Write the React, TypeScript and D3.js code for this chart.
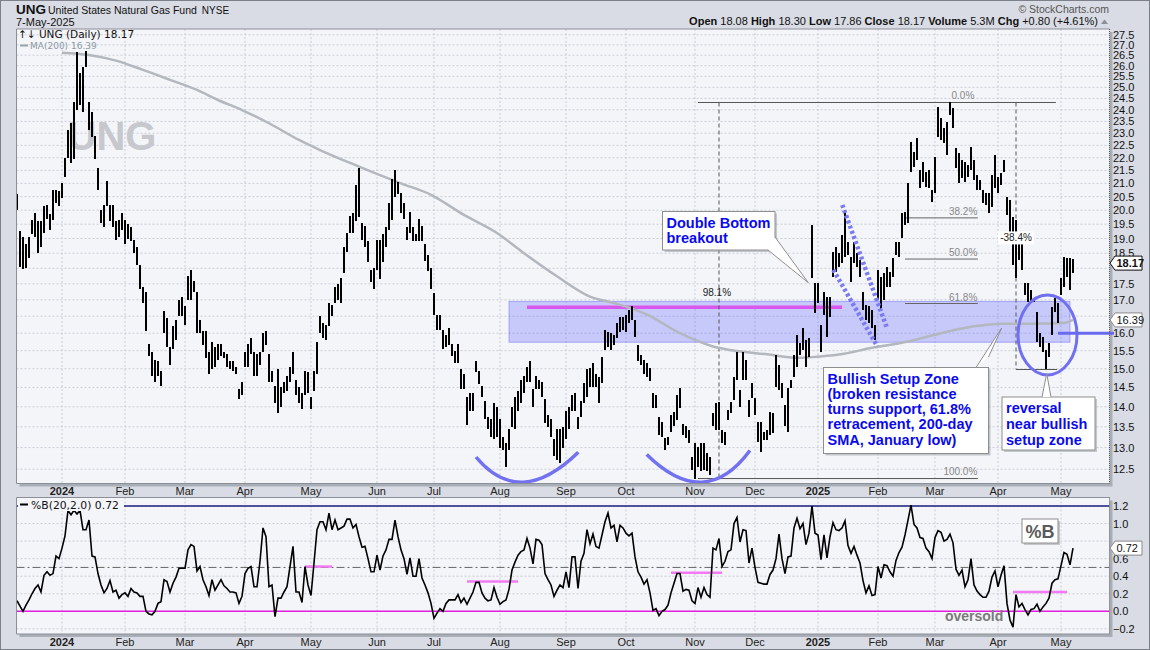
import React from 'react';
import * as d3 from 'd3';

// ---- trading calendar (first bar 8-Dec-2023, last bar 7-May-2025)
const FIRST_DAY = new Date(2023, 11, 8);
const LAST_DAY = new Date(2025, 4, 7);
const HOLIDAYS = [
  '2023-12-25', '2024-01-01', '2024-01-15', '2024-02-19', '2024-03-29', '2024-05-27',
  '2024-06-19', '2024-07-04', '2024-09-02', '2024-11-28', '2024-12-25', '2025-01-01',
  '2025-01-09', '2025-01-20', '2025-02-17', '2025-04-18',
];

// ---- daily UNG bars
const highs = [
  20.6, 19.25, 19.05, 18.8, 19.05, 19.65, 19.9, 19.6, 19.6, 20.15,
  20.2, 19.85, 20.75, 20.75, 20.7, 21.0, 22.0, 23.15, 23.45, 24.35,
  26.65, 25.65, 25.95, 26.7, 24.35, 23.9, 22.9, 21.6, 20.0, 20.2,
  21.1, 20.2, 20.2, 19.6, 19.65, 19.9, 19.65, 19.5, 19.4, 18.95,
  18.7, 18.1, 17.4, 17.25, 15.7, 15.45, 15.25, 15.2, 14.95, 16.65,
  16.45, 15.6, 16.2, 16.4, 17.0, 17.1, 16.8, 17.75, 17.95, 17.6,
  17.25, 16.4, 16.05, 16.05, 15.45, 15.75, 15.6, 15.7, 15.7, 15.45,
  15.4, 15.2, 15.2, 15.05, 14.45, 14.65, 15.45, 15.7, 15.85, 15.45,
  15.4, 15.45, 16.0, 16.05, 15.4, 14.95, 14.55, 15.0, 14.5, 14.65,
  14.8, 15.05, 15.45, 14.7, 14.5, 14.35, 14.95, 14.9, 14.25, 14.95,
  15.75, 16.5, 16.3, 16.25, 16.9, 16.85, 17.4, 17.5, 17.7, 18.7,
  19.2, 19.8, 19.9, 20.95, 21.6, 19.55, 19.45, 18.9, 17.95, 18.0,
  18.95, 18.95, 19.15, 19.4, 20.25, 21.15, 21.5, 21.05, 20.65, 20.25,
  19.4, 19.95, 19.4, 19.15, 19.7, 19.45, 18.8, 18.45, 18.0, 17.2,
  16.55, 16.55, 16.1, 15.95, 16.15, 15.7, 15.5, 15.7, 15.0, 14.85,
  14.25, 14.35, 14.35, 15.2, 14.95, 14.55, 14.15, 13.75, 13.7, 14.1,
  14.0, 13.7, 13.25, 13.1, 13.45, 14.0, 14.25, 14.4, 14.7, 14.8,
  15.05, 15.2, 14.45, 14.8, 14.7, 14.65, 14.2, 13.8, 13.7, 13.2,
  13.45, 13.45, 13.5, 13.9, 14.0, 14.3, 14.35, 13.75, 14.15, 14.63,
  14.98, 15.03, 15.17, 14.85, 14.79, 15.33, 16.1, 16.04, 16.01, 15.95,
  16.31, 16.49, 16.49, 16.55, 16.7, 16.8, 16.4, 15.67, 15.39, 15.25,
  15.17, 15.03, 14.36, 14.31, 13.75, 13.63, 13.24, 13.26, 13.8, 13.88,
  14.31, 14.49, 13.56, 13.51, 13.43, 12.79, 13.12, 13.02, 13.12, 13.12,
  12.88, 12.79, 13.85, 14.1, 14.13, 13.43, 13.38, 13.93, 14.13, 14.79,
  15.47, 14.44, 15.45, 15.25, 14.18, 14.63, 14.23, 13.61, 13.61, 13.38,
  13.43, 13.88, 13.85, 15.39, 15.11, 14.63, 14.05, 14.49, 14.71, 15.39,
  15.95, 15.73, 16.16, 15.81, 15.87, 19.48, 17.53, 17.53, 16.25, 17.25,
  17.09, 17.09, 18.55, 18.71, 18.51, 19.13, 20.01, 18.89, 18.38, 18.89,
  18.51, 18.28, 17.25, 16.85, 16.82, 16.7, 16.25, 17.95, 17.73, 17.86,
  18.05, 17.89, 18.35, 18.89, 18.89, 19.9, 19.94, 21.01, 22.64, 22.23,
  22.8, 21.52, 21.83, 21.44, 21.52, 20.75, 22.03, 24.12, 23.65, 23.22,
  23.48, 24.32, 24.08, 22.39, 22.19, 21.91, 21.83, 21.71, 22.43, 21.91,
  21.33, 21.13, 20.75, 20.64, 20.64, 21.33, 22.11, 21.25, 21.4, 21.91,
  20.49, 20.38, 19.76, 19.66, 18.89, 18.85, 17.53, 17.53, 17.31, 17.06,
  16.64, 16.01, 15.9, 15.53, 15.73, 16.79, 17.06, 16.91, 17.69, 18.38,
  18.35, 18.35, 18.30,
];
const lows = [
  20.0, 18.05, 17.98, 18.0, 18.35, 19.15, 19.05, 18.5, 18.7, 19.2,
  19.7, 19.3, 19.65, 20.25, 20.15, 20.45, 21.25, 22.0, 21.8, 21.95,
  24.0, 24.2, 23.9, 25.95, 23.15, 22.85, 21.95, 20.75, 19.55, 19.4,
  20.15, 19.6, 19.4, 18.95, 19.05, 19.3, 18.8, 19.0, 18.9, 18.5,
  18.1, 17.35, 16.9, 16.05, 15.35, 14.8, 14.65, 14.8, 14.55, 16.0,
  15.6, 15.1, 15.55, 15.8, 16.5, 16.5, 16.25, 17.0, 17.0, 17.25,
  16.0, 16.0, 15.65, 15.3, 14.85, 15.0, 15.05, 15.25, 15.35, 15.3,
  15.05, 15.0, 14.95, 14.85, 14.2, 14.3, 15.05, 15.05, 15.4, 14.8,
  14.8, 15.1, 15.45, 15.65, 14.65, 14.65, 14.1, 13.85, 14.0, 14.35,
  14.4, 14.65, 14.85, 14.3, 14.1, 13.95, 14.3, 14.35, 13.95, 14.4,
  14.85, 16.0, 15.85, 15.8, 16.2, 16.5, 16.9, 17.0, 16.9, 17.85,
  18.55, 19.2, 19.2, 19.6, 19.75, 18.95, 18.7, 18.2, 17.55, 17.35,
  17.95, 17.65, 18.2, 18.7, 19.3, 19.65, 20.5, 20.6, 19.9, 19.7,
  18.95, 19.2, 18.9, 18.9, 18.9, 18.9, 18.25, 17.9, 17.35, 16.55,
  16.1, 16.1, 15.55, 15.6, 15.65, 15.35, 15.15, 15.15, 14.45, 14.45,
  13.55, 13.9, 13.9, 14.9, 14.6, 14.25, 13.7, 13.45, 13.25, 13.2,
  13.25, 13.0, 12.95, 12.55, 12.95, 13.5, 13.45, 13.9, 14.1, 14.35,
  14.65, 14.65, 14.0, 14.45, 14.45, 14.25, 13.6, 13.5, 13.25, 12.8,
  12.7, 12.65, 13.0, 13.2, 13.45, 13.9, 13.9, 13.45, 13.75, 14.1,
  14.26, 14.52, 14.52, 14.5, 14.1, 14.63, 15.53, 15.61, 15.53, 15.67,
  15.87, 16.04, 16.1, 16.04, 16.31, 16.4, 15.9, 15.2, 15.11, 14.85,
  14.79, 14.66, 13.98, 13.98, 13.31, 13.26, 12.95, 13.07, 13.38, 13.51,
  13.68, 13.98, 13.31, 13.24, 13.12, 12.49, 12.29, 12.56, 12.45, 12.49,
  12.45, 12.38, 13.51, 13.43, 13.43, 13.12, 13.07, 13.68, 13.85, 14.18,
  14.71, 14.0, 14.71, 14.71, 13.75, 14.23, 13.8, 13.14, 12.9, 13.19,
  13.19, 13.31, 13.36, 14.52, 14.44, 14.23, 13.51, 13.38, 14.49, 14.79,
  15.06, 15.39, 15.53, 15.06, 15.33, 17.69, 16.61, 16.91, 15.45, 16.55,
  15.9, 16.49, 17.73, 17.89, 18.05, 18.18, 18.38, 18.45, 17.57, 18.18,
  18.05, 17.73, 16.7, 16.4, 16.31, 16.16, 15.81, 17.0, 16.7, 17.0,
  17.41, 17.41, 17.73, 18.45, 18.38, 19.03, 19.48, 19.55, 21.44, 21.64,
  21.91, 20.83, 21.05, 20.87, 20.83, 20.31, 20.64, 22.85, 22.72, 22.6,
  22.11, 23.78, 23.22, 21.6, 21.01, 21.21, 21.05, 21.25, 21.52, 21.13,
  20.75, 20.75, 20.27, 20.2, 19.91, 20.12, 20.83, 20.64, 20.94, 21.44,
  19.83, 18.96, 18.11, 17.69, 18.28, 17.95, 17.15, 16.94, 16.94, 16.94,
  15.75, 15.59, 15.45, 14.98, 15.33, 15.95, 16.64, 16.31, 17.15, 17.41,
  17.73, 17.31, 17.86,
];

// ---- 200-day moving average, sampled (bar index, value)
const maIndex = [15, 24, 33, 42, 51, 60, 67, 75, 84, 94, 101, 114, 128, 138, 149, 160, 169, 180, 191, 199, 210, 221, 232, 240, 250, 260, 265, 274, 285, 297, 308, 319, 328, 338, 349, 352];
const maValue = [26.62, 26.51, 26.24, 25.8, 25.34, 24.88, 24.43, 23.99, 23.42, 22.72, 22.31, 21.65, 21.0, 20.57, 19.83, 19.19, 18.5, 17.74, 17.1, 16.9, 16.55, 16.0, 15.62, 15.49, 15.4, 15.3, 15.32, 15.39, 15.58, 15.76, 16.0, 16.2, 16.28, 16.28, 16.3, 16.39];

// ---- %B(20,2.0), daily
const pctB = [
  0.12, 0.06, 0.0, 0.07, 0.13, 0.2, 0.26, 0.3, 0.22, 0.41,
  0.45, 0.41, 0.43, 0.63, 0.6, 0.72, 0.86, 1.15, 1.1, 1.15,
  1.11, 1.15, 0.93, 0.93, 1.04, 0.63, 0.62, 0.43, 0.3, 0.21,
  0.26, 0.35, 0.22, 0.24, 0.15, 0.19, 0.21, 0.17, 0.26, 0.22,
  0.21, 0.17, 0.17, 0.0, -0.03, -0.04, 0.0, 0.09, 0.11, 0.36,
  0.34, 0.22, 0.32, 0.39, 0.49, 0.49, 0.49, 0.7, 0.76, 0.74,
  0.46, 0.51, 0.36, 0.28, 0.18, 0.36, 0.24, 0.3, 0.36, 0.29,
  0.26, 0.22, 0.22, 0.21, 0.09, 0.17, 0.43, 0.49, 0.51, 0.28,
  0.28, 0.57, 0.95, 0.85, 0.28, 0.3, -0.06, 0.15, 0.15, 0.22,
  0.28, 0.51, 0.74, 0.22, 0.22, 0.1, 0.51, 0.3, 0.18, 0.55,
  0.93, 1.02, 1.02, 0.93, 1.12, 0.93, 1.04, 0.93, 0.95, 0.97,
  1.05, 1.05, 0.95, 0.99, 0.85, 0.73, 0.74, 0.6, 0.45, 0.45,
  0.64, 0.47, 0.63, 0.7, 0.82, 0.82, 1.04, 0.85, 0.7, 0.6,
  0.42, 0.61, 0.4, 0.4, 0.6, 0.38, 0.3, 0.21, 0.09, -0.08,
  -0.02, 0.03, 0.0, 0.09, 0.13, 0.13, 0.13, 0.19, 0.1, 0.15,
  0.08, 0.15, 0.22, 0.33, 0.33, 0.21, 0.15, 0.12, 0.13, 0.27,
  0.16, 0.08, 0.11, 0.13, 0.25, 0.47, 0.56, 0.64, 0.68, 0.7,
  0.83, 0.72, 0.54, 0.82, 0.81, 0.76, 0.43, 0.36, 0.3, 0.17,
  0.24, 0.3, 0.27, 0.45, 0.27, 0.62, 0.62, 0.26, 0.57, 0.66,
  0.93, 0.77, 0.88, 0.74, 0.72, 0.87, 1.02, 1.12, 0.95, 0.98,
  0.79, 0.98, 0.95, 0.89, 0.86, 0.89, 0.62, 0.45, 0.39, 0.31,
  0.36, 0.21, 0.01, 0.03, -0.05, 0.0, 0.02, 0.07, 0.21, 0.32,
  0.43, 0.43, 0.23, 0.25, 0.24, 0.12, 0.09, 0.27, 0.16, 0.27,
  0.19, 0.16, 0.72, 0.7, 0.83, 0.51, 0.57, 0.68, 0.7, 1.0,
  1.07, 0.79, 0.93, 0.92, 0.55, 0.72, 0.5, 0.33, 0.32, 0.31,
  0.31, 0.42, 0.47, 0.6, 0.88, 0.6, 0.43, 0.62, 0.63, 0.95,
  1.06, 0.94, 1.0, 0.76, 0.89, 1.2, 0.89, 0.87, 0.59, 0.87,
  0.61, 0.85, 1.01, 0.93, 0.92, 0.95, 1.03, 0.75, 0.66, 0.74,
  0.64, 0.55, 0.35, 0.21, 0.29, 0.18, 0.19, 0.51, 0.38, 0.53,
  0.52, 0.45, 0.4, 0.58, 0.67, 0.73, 0.87, 1.04, 1.21, 0.99,
  0.95, 0.84, 0.83, 0.72, 0.68, 0.6, 0.84, 0.92, 0.9, 0.8,
  0.82, 0.88, 0.78, 0.48, 0.41, 0.47, 0.28, 0.36, 0.6, 0.3,
  0.23, 0.19, 0.16, 0.16, 0.23, 0.39, 0.46, 0.28, 0.41, 0.52,
  0.09, -0.1, -0.18, 0.19, 0.05, 0.09, 0.02, -0.04, 0.02, 0.03,
  0.08, 0.0, 0.05, 0.09, 0.15, 0.32, 0.36, 0.37, 0.52, 0.67,
  0.65, 0.53, 0.72,
];

const priceTicks = d3.range(12.5, 27.51, 0.5);
const pctTicks = [-0.2, 0, 0.2, 0.4, 0.6, 0.8, 1.0, 1.2];
const LAST_CLOSE = 18.17;
const LAST_MA = 16.39;
const LAST_PCTB = 0.72;

// fibonacci / measurement annotation levels
const FIB_HIGH = 24.32;
const FIB_LOW = 12.29;
const fibRatios = [0.382, 0.5, 0.618];

// pink marks on %B panel: [startBar, endBar, level]
const pinkMarks = [[96, 105, 0.51], [150, 167, 0.34], [218, 235, 0.44], [332, 350, 0.22]];

// ---- layout
const W = 1150, H = 650;
const PL = 16.5, PR = 1109.5;
const MT = 29, MB = 483.5;
const LT = 497.5, LB = 634;
const BG = '#d9dce4';
const PANEL = '#f4f5f9';
const GRID = '#c9cdd5';
const BLUE_TXT = '#0a0af0';

const x = d3.scaleLinear().domain([0, 364]).range([17, 1109]);
const y = d3.scaleLog().domain([12.18, 27.79]).range([MB, MT]);
const yb = d3.scaleLinear().domain([-0.2587, 1.2969]).range([LB, LT]);

function tradingDays() {
  const fmt = d3.timeFormat('%Y-%m-%d');
  const out: Date[] = [];
  const d = new Date(FIRST_DAY);
  while (d <= LAST_DAY) {
    const dow = d.getDay();
    if (dow !== 0 && dow !== 6 && !HOLIDAYS.includes(fmt(d))) out.push(new Date(d));
    d.setDate(d.getDate() + 1);
  }
  return out;
}

// quadratic curve passing through the middle point
function arc(p0: number[], p1: number[], p2: number[]) {
  const a = [x(p0[0]), y(p0[1])], m = [x(p1[0]), y(p1[1])], b = [x(p2[0]), y(p2[1])];
  const c = [2 * m[0] - (a[0] + b[0]) / 2, 2 * m[1] - (a[1] + b[1]) / 2];
  return `M${a[0]},${a[1]}Q${c[0]},${c[1]} ${b[0]},${b[1]}`;
}

function Callout({ box, tail, lines, lh }: any) {
  const [bx, by, bw, bh] = box;
  return (
    <g>
      <rect x={bx + 2} y={by + 2} width={bw} height={bh} fill="#9a9ea6" opacity={0.55} />
      <rect x={bx} y={by} width={bw} height={bh} fill="#fff" stroke="#8e8e8e" strokeWidth={1} />
      <path d={`M${tail[0][0]},${tail[0][1]}L${tail[1][0]},${tail[1][1]}L${tail[2][0]},${tail[2][1]}`}
        fill="#fff" stroke="#8e8e8e" strokeWidth={1} />
      <text x={bx + 4} y={by + 16} fontFamily="Liberation Sans, Arial, sans-serif" fontWeight="bold"
        fontSize={14.5} fill={BLUE_TXT}>
        {lines.map((t: string, k: number) => (
          <tspan key={k} x={bx + 4} dy={k === 0 ? 0 : lh}>{t}</tspan>
        ))}
      </text>
    </g>
  );
}

function Tag({ yv, label, border, bold }: any) {
  return (
    <g>
      <path d={`M1110,${yv}L1115,${yv - 7}H1142V${yv + 7}H1115Z`} fill="#fff" stroke={border} strokeWidth={1} />
      <text x={1116.5} y={yv + 4} fontSize={11} fontWeight={bold ? 'bold' : 'normal'} fill="#111">{label}</text>
    </g>
  );
}

export default function App() {
  const days = tradingDays();
  const months: { i: number; label: string; bold: boolean }[] = [];
  days.forEach((d, i) => {
    if (i > 0 && d.getMonth() !== days[i - 1].getMonth()) {
      const jan = d.getMonth() === 0;
      months.push({ i, label: jan ? String(d.getFullYear()) : d3.timeFormat('%b')(d), bold: jan });
    }
  });

  const bars = highs.map((h, i) => `M${x(i)},${y(h)}V${y(lows[i])}`).join('');
  const maLine = d3.line<number>().x((_, k) => x(maIndex[k])).y((v) => y(v)).curve(d3.curveMonotoneX)(maValue) || '';
  const pctLine = d3.line<number>().x((_, i) => x(i)).y((v) => yb(v))(pctB) || '';

  const fibLevel = (r: number) => FIB_HIGH - r * (FIB_HIGH - FIB_LOW);
  const measureLow = 14.98;

  // axis labels that sit under a value tag are hidden, as on the original
  const priceLabels = priceTicks.filter((t) =>
    Math.abs(y(t) - y(LAST_CLOSE)) > 7.5 && Math.abs(y(t) - y(LAST_MA)) > 7.5);
  const pctLabels = pctTicks.filter((t) => Math.abs(yb(t) - yb(LAST_PCTB)) > 7.5);

  const monthGrid = (top: number, bot: number) =>
    months.map((m) => (
      <line key={m.i} x1={x(m.i)} x2={x(m.i)} y1={top} y2={bot} stroke={GRID} strokeDasharray="2,2" />
    ));
  const monthLabels = (yy: number) =>
    months.map((m) => (
      <text key={m.i} x={x(m.i)} y={yy} textAnchor="middle" fontSize={11}
        fontWeight={m.bold ? 'bold' : 'normal'} fill="#222">{m.label}</text>
    ));

  return (
    <svg width={W} height={H} style={{ position: 'absolute', left: 0, top: 0 }}
      fontFamily="Liberation Sans, Arial, sans-serif">
      <defs>
        <clipPath id="mainClip"><rect x={PL} y={MT} width={PR - PL} height={MB - MT} /></clipPath>
        <clipPath id="lowClip"><rect x={PL} y={LT} width={PR - PL} height={LB - LT} /></clipPath>
      </defs>
      <rect x={0} y={0} width={W} height={H} fill={BG} />
      <rect x={0.5} y={0.5} width={W - 1} height={H - 1} fill="none" stroke="#7c8088" />

      {/* header */}
      <text x={16} y={14} fontSize={13.5} fontWeight="bold" fill="#111">UNG</text>
      <text x={48} y={14} fontSize={10.5} fill="#111">
        United States Natural Gas Fund<tspan dx={5} fontSize={10}>NYSE</tspan>
      </text>
      <text x={16} y={26} fontSize={11} fill="#111">7-May-2025</text>
      <text x={1109} y={13} textAnchor="end" fontSize={10.5} fill="#555">© StockCharts.com</text>
      <text x={1098} y={25} textAnchor="end" fontSize={11} fill="#111">
        <tspan fontWeight="bold">Open</tspan> 18.08  <tspan fontWeight="bold">High</tspan> 18.30  <tspan fontWeight="bold">Low</tspan> 17.86  <tspan fontWeight="bold">Close</tspan> 18.17  <tspan fontWeight="bold">Volume</tspan> 5.3M  <tspan fontWeight="bold">Chg</tspan> +0.80 (+4.61%)
      </text>
      <path d="M1101,24L1104.5,19.5L1108,24Z" fill="#8a9099" />

      {/* ---------- main panel ---------- */}
      <rect x={PL + 3} y={MT + 3} width={PR - PL} height={MB - MT} fill="#a9adb5" />
      <rect x={PL} y={MT} width={PR - PL} height={MB - MT} fill={PANEL} />
      <g>
        {priceTicks.map((t) => (
          <line key={t} x1={PL} x2={PR} y1={y(t)} y2={y(t)} stroke={GRID} strokeDasharray="2,2" />
        ))}
        {monthGrid(MT, MB)}
      </g>
      <text x={112} y={150} textAnchor="middle" fontSize={40} fontWeight="bold" fill="#c6c8cd">UNG</text>

      <g clipPath="url(#mainClip)">
        {/* bullish setup zone */}
        <rect x={x(164)} y={y(16.95)} width={x(351) - x(164)} height={y(15.74) - y(16.95)}
          fill="rgba(100,100,255,0.3)" stroke="rgba(90,90,240,0.45)" />
        <line x1={x(170)} x2={x(275)} y1={y(16.77)} y2={y(16.77)} stroke="#d957ee" strokeWidth={3.5} />

        {/* fibonacci retracement */}
        <line x1={x(227)} x2={x(346.3)} y1={y(FIB_HIGH)} y2={y(FIB_HIGH)} stroke="#555" />
        <line x1={x(227)} x2={x(320.3)} y1={y(FIB_LOW)} y2={y(FIB_LOW)} stroke="#555" />
        {fibRatios.map((r) => (
          <g key={r}>
            <line x1={x(296)} x2={x(320.3)} y1={y(fibLevel(r))} y2={y(fibLevel(r))} stroke="#666" />
            <text x={x(320.1)} y={y(fibLevel(r)) - 3} textAnchor="end" fontSize={10} fill="#888">
              {(r * 100).toFixed(1)}%
            </text>
          </g>
        ))}
        <text x={x(315.3)} y={y(FIB_HIGH) - 3} textAnchor="middle" fontSize={10} fill="#888">0.0%</text>
        <text x={x(320.1)} y={y(FIB_LOW) - 4} textAnchor="end" fontSize={10} fill="#888">100.0%</text>

        {/* % change measures */}
        <line x1={x(234)} x2={x(234)} y1={y(FIB_HIGH)} y2={y(FIB_LOW)} stroke="#555" strokeDasharray="4,3" />
        <text x={x(233.3)} y={y(17.13)} textAnchor="middle" fontSize={10} fill="#222">98.1%</text>
        <line x1={x(333)} x2={x(333)} y1={y(FIB_HIGH)} y2={y(measureLow)} stroke="#555" strokeDasharray="4,3" />
        <line x1={x(333)} x2={x(346.7)} y1={y(measureLow)} y2={y(measureLow)} stroke="#555" />

        {/* 200-day MA */}
        <path d={maLine} fill="none" stroke="#b3b7be" strokeWidth={2.5} />

        {/* price bars */}
        <path d={bars} stroke="#000" strokeWidth={2} fill="none" shapeRendering="crispEdges" />

        <rect x={x(333) - 18} y={y(18.9) - 10} width={36} height={13} fill="#fff" />
        <text x={x(333)} y={y(18.9)} textAnchor="middle" fontSize={10} fill="#222">-38.4%</text>

        {/* drawn annotations */}
        <path d={arc([153, 12.78], [168.8, 12.21], [187.1, 12.89])} fill="none" stroke="#7272f0" strokeWidth={3.5} />
        <path d={arc([209.9, 12.84], [228.2, 12.21], [244.3, 12.93])} fill="none" stroke="#7272f0" strokeWidth={3.5} />
        <line x1={x(275.1)} y1={y(20.19)} x2={x(289.9)} y2={y(16.17)} stroke="#7b7bf0" strokeWidth={4.5} strokeDasharray="3,2.5" />
        <line x1={x(272.1)} y1={y(17.95)} x2={x(286.8)} y2={y(15.62)} stroke="#7b7bf0" strokeWidth={4.5} strokeDasharray="3,2.5" />
        <ellipse cx={x(343.5)} cy={y(15.95)} rx={29.5} ry={40} fill="none" stroke="#7070f0" strokeWidth={3} />
      </g>
      <line x1={x(347)} x2={1114} y1={y(16)} y2={y(16)} stroke="#6a6af0" strokeWidth={3} />

      {/* legend */}
      <text x={18} y={38} fontFamily="DejaVu Sans, sans-serif" fontSize={10.5} fill="#111">↑↓ UNG (Daily) 18.17</text>
      <line x1={20} x2={28} y1={45.5} y2={45.5} stroke="#9aa2ab" strokeWidth={2} />
      <text x={30} y={49} fontFamily="DejaVu Sans, sans-serif" fontSize={9} fill="#8d99a5">MA(200) 16.39</text>

      {/* callouts */}
      <Callout box={[662.5, 211.5, 112.5, 38.5]} tail={[[768, 250], [808.3, 282.7], [775, 237]]}
        lines={['Double Bottom', 'breakout']} lh={15.5} />
      <Callout box={[823.5, 367.5, 165, 86]} tail={[[976, 367.5], [1001.7, 328], [988.5, 357]]}
        lines={['Bullish Setup Zone', '(broken resistance', 'turns support, 61.8%', 'retracement, 200-day', 'SMA, January low)']} lh={15.3} />
      <Callout box={[1002, 397, 93, 53]} tail={[[1042, 397], [1046.7, 373.5], [1051, 397]]}
        lines={['reversal', 'near bullish', 'setup zone']} lh={15.8} />

      <line x1={PL} x2={PL} y1={MT} y2={MB} stroke="#8b8f97" />
      <line x1={PL} x2={PR} y1={MT} y2={MT} stroke="#8b8f97" />
      <line x1={PL} x2={PR} y1={MB} y2={MB} stroke="#8b8f97" />
      <line x1={PR} x2={PR} y1={MT} y2={MB} stroke="#555" strokeDasharray="1,1" />

      {/* price axis */}
      {priceLabels.map((t) => (
        <text key={t} x={1113} y={y(t) + 4} fontSize={11} fill="#111">{d3.format('.1f')(t)}</text>
      ))}
      <Tag yv={y(LAST_MA)} label={LAST_MA.toFixed(2)} border="#8a8a8a" bold={false} />
      <Tag yv={y(LAST_CLOSE)} label={LAST_CLOSE.toFixed(2)} border="#111" bold={true} />

      {monthLabels(494.5)}

      {/* ---------- %B panel ---------- */}
      <rect x={PL + 3} y={LT + 3} width={PR - PL} height={LB - LT} fill="#a9adb5" />
      <rect x={PL} y={LT} width={PR - PL} height={LB - LT} fill={PANEL} />
      {pctTicks.map((t) => (
        <line key={t} x1={PL} x2={PR} y1={yb(t)} y2={yb(t)} stroke={GRID} strokeDasharray="2,2" />
      ))}
      {monthGrid(LT, LB)}
      <g clipPath="url(#lowClip)">
        <line x1={PL} x2={PR} y1={yb(1.2)} y2={yb(1.2)} stroke="#1c1c80" strokeWidth={1.5} />
        <line x1={PL} x2={PR} y1={yb(0)} y2={yb(0)} stroke="#e21ee2" strokeWidth={1.5} />
        <line x1={PL} x2={PR} y1={yb(0.5)} y2={yb(0.5)} stroke="#666" strokeDasharray="8,3,2,3" />
        {pinkMarks.map((m, k) => (
          <line key={k} x1={x(m[0])} x2={x(m[1])} y1={yb(m[2])} y2={yb(m[2])} stroke="#f27af2" strokeWidth={2.5} />
        ))}
        <path d={pctLine} fill="none" stroke="#000" strokeWidth={1.6} />
      </g>
      <rect x={18} y={499} width={106} height={12} fill={PANEL} />
      <line x1={20} x2={28} y1={504.5} y2={504.5} stroke="#000" strokeWidth={2} />
      <text x={31} y={508.5} fontFamily="DejaVu Sans, sans-serif" fontSize={10.8} fill="#111">%B(20,2.0) 0.72</text>
      <text x={x(309.3)} y={yb(-0.11)} fontSize={14} fontWeight="bold" fill="#7a7a7a">oversold</text>
      <rect x={1024} y={521} width={36} height={24} fill="#9a9ea6" opacity={0.55} />
      <rect x={1022} y={519} width={36} height={24} fill="#fff" stroke="#8e8e8e" />
      <text x={1040} y={537.5} textAnchor="middle" fontSize={18} fontWeight="bold" fill="#5a5a5a">%B</text>

      <line x1={PL} x2={PL} y1={LT} y2={LB} stroke="#8b8f97" />
      <line x1={PL} x2={PR} y1={LT} y2={LT} stroke="#8b8f97" />
      <line x1={PL} x2={PR} y1={LB} y2={LB} stroke="#8b8f97" />
      <line x1={PR} x2={PR} y1={LT} y2={LB} stroke="#555" strokeDasharray="1,1" />
      {pctLabels.map((t) => (
        <text key={t} x={1113} y={yb(t) + 4} fontSize={11} fill="#111">{d3.format('.1f')(t)}</text>
      ))}
      <Tag yv={yb(LAST_PCTB)} label={LAST_PCTB.toFixed(2)} border="#8a8a8a" bold={false} />

      {monthLabels(645.5)}
    </svg>
  );
}
